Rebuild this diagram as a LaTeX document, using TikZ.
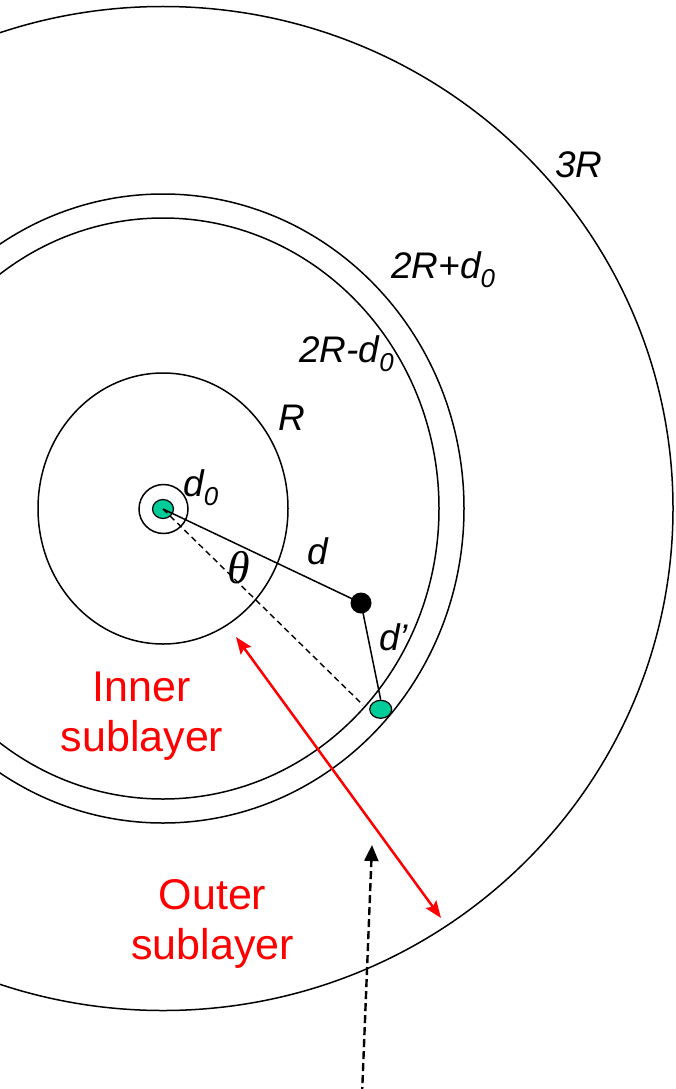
\documentclass[tikz,border=0pt]{standalone}
\usepackage{fontspec}
\setmainfont{Liberation Sans}
\newfontfamily\thetafont{Liberation Serif}
\usepackage{tikz}
\usetikzlibrary{arrows.meta,shapes}
\definecolor{dotgreen}{RGB}{0,204,153}
\definecolor{layerred}{RGB}{255,0,0}

\begin{document}
\begin{tikzpicture}[x=1pt, y=-1pt, >={Stealth[length=17pt, width=13pt, inset=3pt]},
  every node/.style={inner sep=0pt},
  lbl/.style={anchor=base west, font=\fontsize{37}{44}\selectfont\itshape},
  redlbl/.style={align=center, text=layerred, font=\fontsize{43}{50}\selectfont},
  ring/.style={line width=1.5pt},
  dotg/.style={ellipse, draw, line width=1.2pt, fill=dotgreen}]
  \useasboundingbox (0,0) rectangle (676,1089);
  \clip (0,0) rectangle (676,1089);

  % Rings round the centre
  \coordinate (o) at (163,508.5);
  \draw[ring] (163.5,509) circle [radius=24.5];
  \draw[ring] (o) ellipse [x radius=125, y radius=135.5];
  \draw[ring] (o) ellipse [x radius=276, y radius=290.5];
  \draw[ring] (o) ellipse [x radius=301, y radius=314.5];
  \draw[ring] (o) ellipse [x radius=510, y radius=502];

  % Particles
  \node[dotg, minimum width=21pt, minimum height=19pt] (c1) at (163,509) {};
  \node[circle, fill=black, minimum size=21pt] (bd) at (361,603) {};
  \node[dotg, minimum width=22pt, minimum height=18pt] (g2) at (380.7,709.3) {};

  % Distances
  \coordinate (dend) at (363,705);
  \draw[ring] (c1.center) -- (bd.center);
  \draw[ring] (bd.center) -- (g2.north);
  \draw[line width=1.4pt, dash pattern=on 6pt off 4pt] (c1.center) -- (dend);

  % Sublayer span and probe
  \coordinate (ra) at (236,637);
  \coordinate (rb) at (441,918);
  \draw[<->, line width=2.5pt, layerred] (ra) -- (rb);
  \coordinate (ba) at (362,1095);
  \coordinate (bb) at (372,845);
  \draw[-{Triangle[length=16pt, width=14pt]}, line width=2.4pt, dash pattern=on 8pt off 4pt] (ba) -- (bb);

  % Labels
  \node[lbl] (l3R) at (555,177) {3R};
  \node[lbl] (l2Rp) at (391,278) {2R+d\textsubscript{0}};
  \node[lbl] (l2Rm) at (299,362) {2R-d\textsubscript{0}};
  \node[lbl] (lR) at (278,430) {R};
  \node[lbl] (ld0) at (183,496) {d\textsubscript{0}};
  \node[lbl] (ld) at (307,564) {d};
  \node[lbl] (ldp) at (379,650) {d’};
  \node[font=\fontsize{46}{50}\selectfont\thetafont\itshape] (lth) at (239,568) {θ};

  \node[redlbl] (inner) at (142,716.5) {Inner\\sublayer};
  \node[redlbl] (outer) at (212.5,924) {Outer\\sublayer};
\end{tikzpicture}
\end{document}
